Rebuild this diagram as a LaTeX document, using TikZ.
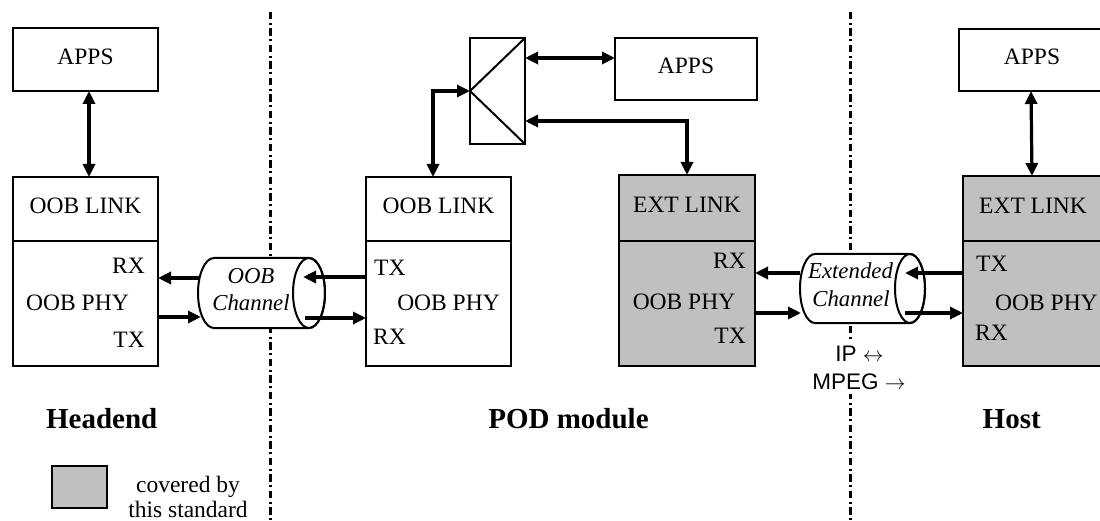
\documentclass[tikz,border=0pt]{standalone}
\usepackage{fontspec}
\setmainfont{Liberation Serif}
\newfontfamily\arialf{Liberation Sans}
\usetikzlibrary{arrows.meta}
\definecolor{boxgray}{RGB}{192,192,192}
\begin{document}
\begin{tikzpicture}[x=1pt,y=-1pt,
  blk/.style={draw,line width=2pt,inner sep=0pt,outer sep=0pt,text depth=6pt,
    font=\fontsize{23.5}{26}\selectfont},
  txt/.style={inner sep=0pt,font=\fontsize{23.5}{26}\selectfont},
  itx/.style={inner sep=0pt,font=\fontsize{22.8}{26}\selectfont\itshape},
  bld/.style={inner sep=0pt,anchor=base,font=\fontsize{29}{30}\selectfont\bfseries},
  sans/.style={inner sep=0pt,anchor=base,fill=white,inner ysep=5pt,inner xsep=1pt,
    font=\fontsize{22.5}{26}\arialf},
  arr/.style={line width=3.2pt,-{Triangle[length=13pt,width=12pt]}},
  biarr/.style={line width=3.2pt,{Triangle[length=13pt,width=12pt]}-{Triangle[length=13pt,width=12pt]}},
  sep/.style={line width=3pt,dash pattern=on 7.5pt off 3.5pt on 2pt off 3.5pt},
  cyl/.style={line width=2pt,fill=white}]
\path[use as bounding box,clip] (0,0) rectangle (1100,521);

% separators
\coordinate (d1t) at (270,12); \coordinate (d1b) at (270,525);
\coordinate (d2t) at (850,12); \coordinate (d2b) at (850,525);
\draw[sep] (d1t) -- (d1b);
\draw[sep] (d2t) -- (d2b);

% ---------- Headend ----------
\node[blk,minimum width=145pt,minimum height=63pt] (hApps) at (85.5,59.5) {APPS};
\node[blk,minimum width=145pt,minimum height=64pt] (hLink) at (85.5,209) {OOB LINK};
\node[blk,minimum width=145pt,minimum height=125pt] (hPhy) at (85.5,303.5) {};
\node[txt,anchor=base east] (hRX) at (145,273) {RX};
\node[txt,anchor=base] (hOP) at (77.5,310) {OOB PHY};
\node[txt,anchor=base east] (hTX) at (145,347) {TX};
\draw[biarr] ([xshift=3.5pt]hApps.south) -- ([xshift=3.5pt]hLink.north);

% ---------- POD module ----------
\node[blk,minimum width=145pt,minimum height=64pt] (pLink) at (438.5,209) {OOB LINK};
\node[blk,minimum width=145pt,minimum height=125pt] (pPhy) at (438.5,303.5) {};
\node[txt,anchor=base west] (pTX) at (374,276) {TX};
\node[txt,anchor=base] (pOP) at (448.5,310) {OOB PHY};
\node[txt,anchor=base west] (pRX) at (373,344) {RX};

\node[blk,minimum width=55pt,minimum height=106pt] (sw) at (497.5,91) {};
\draw[line width=2pt] (sw.north east) -- (sw.west) -- (sw.south east);
\node[blk,minimum width=142pt,minimum height=62pt] (pApps) at (686,69) {APPS};

\node[blk,fill=boxgray,minimum width=136pt,minimum height=66pt] (pExt) at (687,208) {EXT LINK};
\node[blk,fill=boxgray,minimum width=136pt,minimum height=125pt] (pExtPhy) at (687,303.5) {};
\node[txt,anchor=base east] (eRX) at (746,269) {RX};
\node[txt,anchor=base] (eOP) at (684,309) {OOB PHY};
\node[txt,anchor=base east] (eTX) at (746,343) {TX};

\coordinate (y58) at (0,58);
\coordinate (y121) at (0,121);
\draw[biarr] (sw.east |- y58) -- (pApps.west |- y58);
\draw[biarr] (sw.east |- y121) -| (pExt.north);
\draw[biarr] ([xshift=-5.5pt]pLink.north) |- (sw.west);

% ---------- Host ----------
\node[blk,minimum width=146pt,minimum height=62pt] (oApps) at (1032,60) {APPS};
\node[blk,fill=boxgray,minimum width=140pt,minimum height=65pt] (oExt) at (1033,208.5) {EXT LINK};
\node[blk,fill=boxgray,minimum width=140pt,minimum height=125pt] (oPhy) at (1033,303.5) {};
\node[txt,anchor=base west] (oTX) at (976,272) {TX};
\node[txt,anchor=base west] (oOP) at (995,310) {OOB PHY};
\node[txt,anchor=base west] (oRX) at (975,340) {RX};
\draw[biarr] ([xshift=-1pt]oApps.south) -- ([xshift=-1pt]oExt.north);

% ---------- OOB channel ----------
\coordinate (c1l) at (214,293);
\coordinate (c1r) at (309,293);
\draw[cyl] (214,258) -- (309,258) arc[start angle=-90,end angle=90,x radius=16,y radius=35]
  -- (214,328) arc[start angle=90,end angle=270,x radius=16,y radius=35] -- cycle;
\draw[line width=2pt] (c1r) ellipse[x radius=16,y radius=35];
\node[itx,anchor=base] (c1a) at (251,283.5) {OOB};
\node[itx,anchor=base] (c1b) at (251,310) {Channel};

% ---------- Extended channel ----------
\coordinate (c2l) at (815,288.5);
\coordinate (c2r) at (910,288.5);
\draw[cyl] (815,254) -- (910,254) arc[start angle=-90,end angle=90,x radius=15,y radius=34.5]
  -- (815,323) arc[start angle=90,end angle=270,x radius=15,y radius=34.5] -- cycle;
\draw[line width=2pt] (c2r) ellipse[x radius=15,y radius=34.5];
\node[itx,anchor=base] (c2a) at (850.5,278.5) {Extended};
\node[itx,anchor=base] (c2b) at (851,306) {Channel};

% ---------- channel arrows ----------
\coordinate (a1) at (200,278);
\coordinate (a2) at (201,317);
\coordinate (a3) at (303,277);
\coordinate (a4) at (305,318);
\draw[arr] (a1) -- (hPhy.east |- a1);
\draw[arr] (hPhy.east |- a2) -- (a2);
\draw[arr] (pPhy.west |- a3) -- (a3);
\draw[arr] (a4) -- (pPhy.west |- a4);

\coordinate (a5) at (800,273);
\coordinate (a6) at (801,313);
\coordinate (a7) at (905,273);
\coordinate (a8) at (905,313);
\draw[arr] (a5) -- (pExtPhy.east |- a5);
\draw[arr] (pExtPhy.east |- a6) -- (a6);
\draw[arr] (oPhy.west |- a7) -- (a7);
\draw[arr] (a8) -- (oPhy.west |- a8);

% IP / MPEG
\node[sans] (ip) at (859.5,361.5) {IP $\leftrightarrow$};
\node[sans] (mpeg) at (859,389) {MPEG $\rightarrow$};

% ---------- labels ----------
\node[bld] (lhe) at (101.7,428) {Headend};
\node[bld] (lpod) at (568.5,428) {POD module};
\node[bld] (lhost) at (1011.7,428) {Host};

% legend
\node[draw,fill=boxgray,line width=2pt,inner sep=0pt,minimum width=55pt,minimum height=42pt] (leg) at (79.5,487) {};
\node[txt,anchor=base] (lg1) at (188,492) {covered by};
\node[txt,anchor=base] (lg2) at (188,517) {this standard};
\end{tikzpicture}
\end{document}
